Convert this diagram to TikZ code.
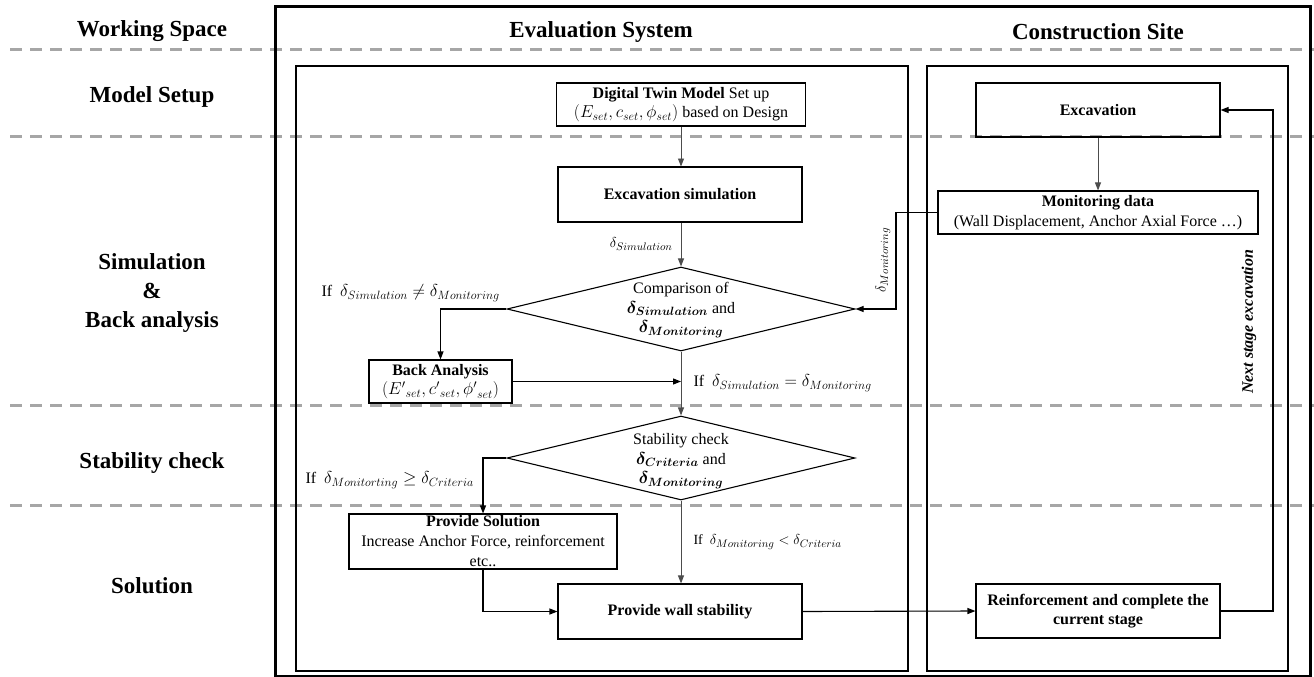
\documentclass[tikz,border=0pt]{standalone}
\usepackage{amsmath}
\usepackage{bm}
\usepackage{fontspec}
\setmainfont{Liberation Serif}
\DeclareMathSizes{16}{16}{12}{9}
\DeclareMathSizes{14}{14}{10.5}{8}
\usetikzlibrary{arrows.meta,shapes.geometric,calc}
\begin{document}
\begin{tikzpicture}[x=1pt,y=-1pt,
  box/.style={draw,line width=1.1pt,rectangle,inner sep=0pt,font=\fontsize{16}{19.5}\selectfont,align=center},
  dia/.style={draw,line width=1.1pt,diamond,inner sep=0pt,minimum width=348pt,minimum height=84pt},
  head/.style={font=\fontsize{23}{29}\selectfont\bfseries,align=center},
  sepline/.style={draw=black!35,line width=3pt,dash pattern=on 12pt off 8pt},
  conn/.style={line width=1.1pt,-{Triangle[length=8pt,width=6pt]}},
  conng/.style={black!70,line width=0.9pt,-{Triangle[length=8pt,width=6pt]}},
  lbl/.style={font=\fontsize{16}{19}\selectfont},
  slbl/.style={font=\fontsize{14}{17}\selectfont},
  txt/.style={font=\fontsize{16}{19.5}\selectfont,align=center},
  frame/.style={draw,line width=1.1pt}
]
\useasboundingbox (0,0) rectangle (1314,677);
% separators
\foreach \yy in {50,136,405,505} \draw[sepline] (10,\yy) -- (1314,\yy);
% frames
\draw[line width=3pt] (275,7) rectangle (1310,676);
\draw[frame] (296,66) rectangle (908,671);
\draw[frame] (927,66) rectangle (1288,671);
% headings
\node[head] (hws) at (152,31) {Working Space};
\node[head] (hes) at (601,32) {Evaluation System};
\node[head] (hcs) at (1098,32) {Construction Site};
\node[head] (rms) at (152,97) {Model Setup};
\node[head] (rsb) at (152,293) {Simulation\\\&\\Back analysis};
\node[head] (rsc) at (152,463) {Stability check};
\node[head] (rso) at (152,586) {Solution};
% evaluation column
\node[box,minimum width=249pt,minimum height=43pt] (dt) at (681,104.5)
  {\textbf{Digital Twin Model} Set up\\$(E_{set}, c_{set}, \phi_{set})$ based on Design};
\node[box,minimum width=244pt,minimum height=55pt] (exsim) at (680,194.5) {\textbf{Excavation simulation}};
\node[dia] (comp) at (681,309) {};
\node[txt] (comptxt) at (681,310) {Comparison of\\$\bm{\delta_{Simulation}}$ and\\$\bm{\delta_{Monitoring}}$};
\node[box,minimum width=143pt,minimum height=43pt] (ba) at (440.5,381.5)
  {\textbf{Back Analysis}\\$({E'}_{set}, {c'}_{set}, {\phi'}_{set})$};
\node[dia] (stab) at (681,458) {};
\node[txt] (stabtxt) at (681,461) {Stability check\\$\bm{\delta_{Criteria}}$ and\\$\bm{\delta_{Monitoring}}$};
\node[box,minimum width=268pt,minimum height=55pt,font=\fontsize{16}{20}\selectfont] (sol) at (483,541.5)
  {\textbf{Provide Solution}\\Increase Anchor Force, reinforcement\\etc..};
\node[box,minimum width=244pt,minimum height=55pt] (wall) at (680,611.5) {\textbf{Provide wall stability}};
% construction column
\node[box,minimum width=244pt,minimum height=54pt] (exc) at (1098,110) {\textbf{Excavation}};
\node[box,minimum width=320pt,minimum height=43pt] (mon) at (1098,212.5)
  {\textbf{Monitoring data}\\(Wall Displacement, Anchor Axial Force …)};
\node[box,minimum width=244pt,minimum height=54pt] (reinf) at (1098,611)
  {\textbf{Reinforcement and complete the}\\\textbf{current stage}};
% helper coordinates
\coordinate (dmx) at (896,0);
\coordinate (rtx) at (1273,0);
\coordinate (baEnd) at (comp.south |- ba.east);
% connectors
\draw[conng] (dt.south -| 681,0) -- (681,166.5);
\draw[conng] (exsim.south -| comp.north) -- (comp.north);
\draw[conn] (comp.west) -| (ba.north);
\draw[conng] (comp.south) -- (stab.north);
\draw[conn] (ba.east) -- (baEnd);
\draw[conn] (stab.west) -| (sol.north);
\draw[conng] (stab.south) -- (wall.north -| stab.south);
\draw[conn] (sol.south) |- (wall.west);
\draw[conn] (wall.east) -- (reinf.west);
\draw[conn] (reinf.east) -| (rtx |- exc.east) -- (exc.east);
\draw[conng] (exc.south) -- (mon.north);
\draw[conn] (mon.west) -| (dmx |- comp.east) -- (comp.east);
% labels
\node[slbl,anchor=east] (lsim) at (676,244) {$\delta_{Simulation}$};
\node[lbl,anchor=west] (lne) at (318,293) {If\ \ $\delta_{Simulation} \neq \delta_{Monitoring}$};
\node[lbl,anchor=west] (leq) at (690,383) {If\ \ $\delta_{Simulation} = \delta_{Monitoring}$};
\node[lbl,anchor=west] (lge) at (302,480) {If\ \ $\delta_{Monitorting} \geq \delta_{Criteria}$};
\node[slbl,anchor=west] (llt) at (690,542) {If\ \ $\delta_{Monitoring} < \delta_{Criteria}$};
\node[slbl,rotate=90] (lmon) at (883,260) {$\delta_{Monitoring}$};
\node[font=\fontsize{16}{19}\selectfont\bfseries\itshape,rotate=90] (lnext) at (1249,322) {Next stage excavation};
\end{tikzpicture}
\end{document}
